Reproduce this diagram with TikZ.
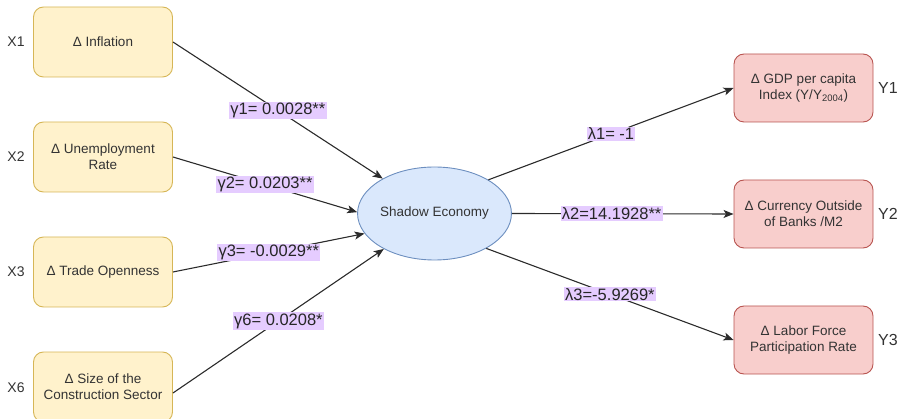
\documentclass[tikz,border=0pt]{standalone}
\usepackage{fontspec}
\setmainfont{Liberation Sans}
\usetikzlibrary{arrows.meta,shapes.geometric}
\definecolor{yfill}{HTML}{FFF2CC}
\definecolor{ydraw}{HTML}{D6B656}
\definecolor{rfill}{HTML}{F8CECC}
\definecolor{rdraw}{HTML}{B85450}
\definecolor{bfill}{HTML}{DAE8FC}
\definecolor{bdraw}{HTML}{6C8EBF}
\definecolor{lfill}{HTML}{E5CCFF}
\definecolor{txt}{HTML}{333333}
\definecolor{edgec}{HTML}{2B2B2B}
\begin{document}
\begin{tikzpicture}[x=1pt,y=-1pt,
  varbox/.style={rectangle, rounded corners=10pt, minimum width=139pt, minimum height=70pt, line width=0.9pt, align=center, text=txt, font=\fontsize{13.5}{16}\selectfont},
  inbox/.style={varbox, fill=yfill, draw=ydraw},
  outbox/.style={varbox, fill=rfill, draw=rdraw, minimum height=68pt},
  latent/.style={ellipse, fill=bfill, draw=bdraw, line width=0.9pt, minimum width=137pt, minimum height=93pt, inner sep=0pt, text=txt, font=\fontsize{13.5}{16}\selectfont},
  tag/.style={text=txt, font=\fontsize{14}{16}\selectfont},
  ytag/.style={text=txt, font=\fontsize{16}{18}\selectfont},
  coef/.style={fill=lfill, inner sep=1.2pt, text=black!85, font=\fontsize{16.5}{18}\selectfont},
  link/.style={draw=edgec, line width=1.1pt, -{Stealth[length=10pt,width=8pt,inset=2.5pt]}}
]
\useasboundingbox (0,0) rectangle (904,419);
\node[inbox] (x1) at (103,42) {Δ Inflation};
\node[inbox] (x2) at (103,157) {Δ Unemployment\\Rate};
\node[inbox] (x3) at (103,272) {Δ Trade Openness};
\node[inbox] (x6) at (103,387) {Δ Size of the\\Construction Sector};
\node[tag] (lx1) at (16,42) {X1};
\node[tag] (lx2) at (16,157) {X2};
\node[tag] (lx3) at (16,272) {X3};
\node[tag] (lx6) at (16,388) {X6};

\node[latent] (se) at (434.5,213.5) {Shadow Economy};

\node[outbox] (y1) at (803.5,88) {Δ GDP per capita\\Index (Y/Y\textsubscript{2004})};
\node[outbox] (y2) at (803.5,214) {Δ Currency Outside\\of Banks /M2};
\node[outbox] (y3) at (803.5,340) {Δ Labor Force\\Participation Rate};
\node[ytag] (ly1) at (888,88) {Y1};
\node[ytag] (ly2) at (888,214) {Y2};
\node[ytag] (ly3) at (888,340) {Y3};

\coordinate (x6out) at ([yshift=-6pt]x6.east);

\draw[link] (x1.east) -- (se.146) node[coef, pos=0.5] (g1) {γ1= 0.0028**};
\draw[link] (x2.east) -- (se.179) node[coef, pos=0.5] (g2) {γ2= 0.0203**};
\draw[link] (x3.east) -- (se.196) node[coef, pos=0.5] (g3) {γ3= -0.0029**};
\draw[link] (x6out) -- (se.215) node[coef, pos=0.5] (g6) {γ6= 0.0208*};

\draw[link] (se.32) -- (y1.west) node[coef, pos=0.5] (l1) {λ1= -1};
\draw[link] (se.east) -- (y2.west) node[coef, pos=0.45] (l2) {λ2=14.1928**};
\draw[link] (se.326) -- (y3.west) node[coef, pos=0.5] (l3) {λ3=-5.9269*};
\end{tikzpicture}
\end{document}
